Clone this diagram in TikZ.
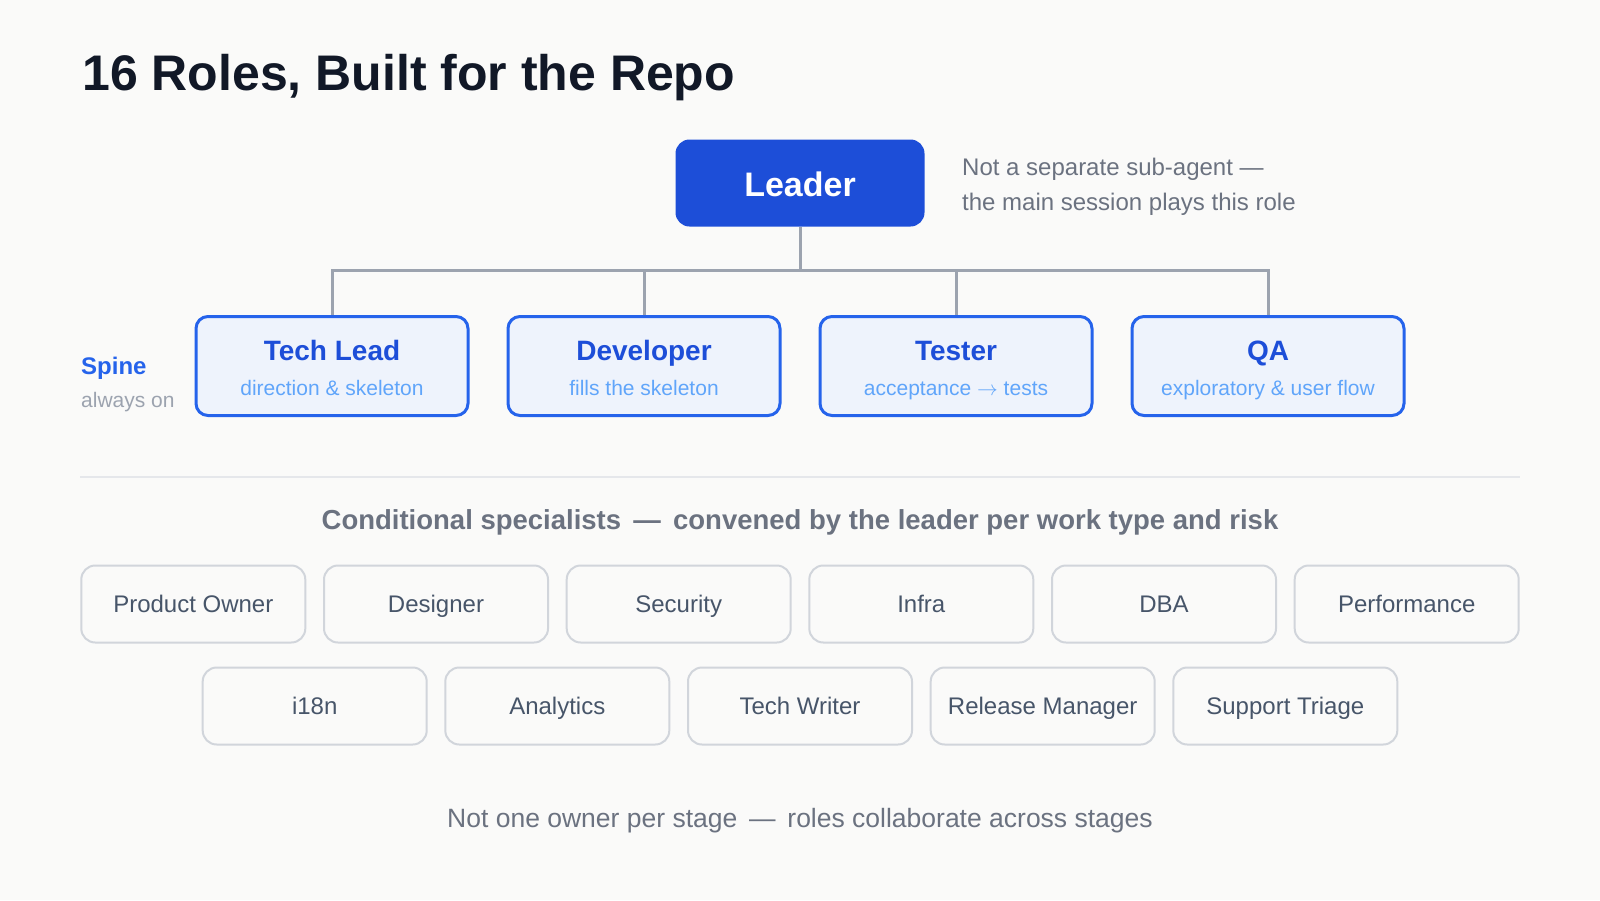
\documentclass[tikz,border=0pt]{standalone}
\usepackage{fontspec}
\setmainfont{Liberation Sans}
\definecolor{bg}{HTML}{FAFAF9}
\definecolor{titlecol}{HTML}{111827}
\definecolor{leaderblue}{HTML}{1D4ED8}
\definecolor{spineblue}{HTML}{2563EB}
\definecolor{spinefill}{HTML}{EEF3FC}
\definecolor{subblue}{HTML}{60A5FA}
\definecolor{notegray}{HTML}{6B7280}
\definecolor{lightgray}{HTML}{9CA3AF}
\definecolor{conncol}{HTML}{9CA3AF}
\definecolor{sepcol}{HTML}{E5E7EB}
\definecolor{specborder}{HTML}{D1D5DB}
\definecolor{spectext}{HTML}{475569}
\newcommand{\fs}[1]{\fontsize{#1}{#1}\selectfont}
\begin{document}
\begin{tikzpicture}[x=1pt,y=-1pt,
  spinebox/.style={draw=spineblue, line width=3pt, fill=spinefill, rounded corners=12pt, minimum width=272pt, minimum height=99pt, inner sep=0pt},
  specbox/.style={draw=specborder, line width=2pt, fill=bg, rounded corners=14pt, minimum width=224pt, minimum height=77pt, inner sep=0pt},
  leaderbox/.style={fill=leaderblue, rounded corners=14pt, minimum width=249pt, minimum height=87pt, inner sep=0pt},
  conn/.style={draw=conncol, line width=3pt},
  spinetitle/.style={anchor=base, inner sep=0pt, text=leaderblue, font=\fs{28}\bfseries},
  spinesub/.style={anchor=base, inner sep=0pt, text=subblue, font=\fs{21}},
  spectxt/.style={anchor=base, inner sep=0pt, text=spectext, font=\fs{24}},
  notetxt/.style={anchor=base west, inner sep=0pt, text=notegray, font=\fs{24}}
]
\fill[bg] (0,0) rectangle (1600,900);
\useasboundingbox (0,0) rectangle (1600,900);

% title
\node[anchor=base west, inner sep=0pt, text=titlecol, font=\fs{50}\bfseries] (title) at (82,90) {16 Roles, Built for the Repo};

% leader
\node[leaderbox] (leader) at (800,183) {};
\node[anchor=base, inner sep=0pt, text=white, font=\fs{34}\bfseries] (leadertxt) at (800,196) {Leader};
\node[notetxt] (note1) at (962,175) {Not a separate sub-agent —};
\node[notetxt] (note2) at (962,210) {the main session plays this role};

% spine boxes
\node[spinebox] (tl) at (332,366) {};
\node[spinebox] (dev) at (644,366) {};
\node[spinebox] (tst) at (956,366) {};
\node[spinebox] (qa) at (1268,366) {};

\coordinate (bus) at (800,270);
\draw[conn] (leader.south) -- (bus);
\draw[conn] (tl.north) |- (bus);
\draw[conn] (dev.north) |- (bus);
\draw[conn] (tst.north) |- (bus);
\draw[conn] (qa.north) |- (bus);

\node[spinetitle] (tlt) at (332,360) {Tech Lead};
\node[spinesub] (tls) at (332,395) {direction \& skeleton};
\node[spinetitle] (devt) at (644,360) {Developer};
\node[spinesub] (devs) at (644,395) {fills the skeleton};
\node[spinetitle] (tstt) at (956,360) {Tester};
\node[spinesub] (tsts) at (956,395) {acceptance $\rightarrow$ tests};
\node[spinetitle] (qat) at (1268,360) {QA};
\node[spinesub] (qas) at (1268,395) {exploratory \& user flow};

\node[anchor=base west, inner sep=0pt, text=spineblue, font=\fs{24}\bfseries] (spine) at (81,374) {Spine};
\node[anchor=base west, inner sep=0pt, text=lightgray, font=\fs{21}] (always) at (81,407) {always on};

% separator
\draw[draw=sepcol, line width=2pt] (80,477) -- (1520,477);

\node[anchor=base, inner sep=0pt, text=notegray, font=\fs{27.5}\bfseries] (cond) at (800,529) {Conditional specialists \,—\, convened by the leader per work type and risk};

% specialists row 1
\foreach \nm/\x/\t in {po/193.3/Product Owner, des/436/Designer, sec/678.7/Security, inf/921.3/Infra, dba/1164/DBA, perf/1406.7/Performance}{
  \node[specbox] (\nm) at (\x,604) {};
  \node[spectxt] (\nm t) at (\x,612.5) {\t};
}
% specialists row 2
\foreach \nm/\x/\t in {i18/314.7/i18n, ana/557.3/Analytics, tw/800/Tech Writer, rm/1042.7/Release Manager, st/1285.3/Support Triage}{
  \node[specbox] (\nm) at (\x,706) {};
  \node[spectxt] (\nm t) at (\x,714.5) {\t};
}

\node[anchor=base, inner sep=0pt, text=notegray, font=\fs{26.5}] (bottom) at (800,827) {Not one owner per stage \,—\, roles collaborate across stages};
\end{tikzpicture}
\end{document}
